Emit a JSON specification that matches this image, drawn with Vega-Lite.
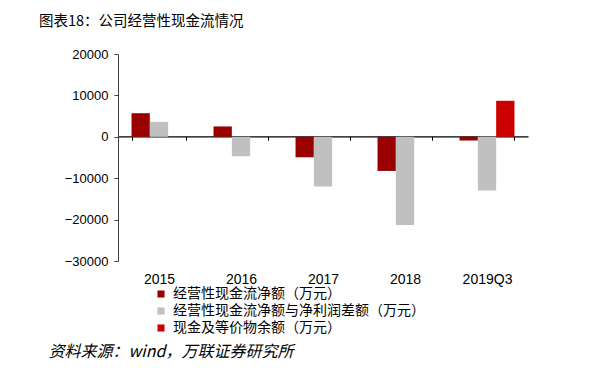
{
  "$schema": "https://vega.github.io/schema/vega-lite/v6.json",
  "width": 410,
  "height": 207,
  "autosize": {"type": "none"},
  "padding": {"left": 118, "top": 54, "right": 84, "bottom": 127},
  "background": "white",
  "title": {
    "text": "图表18：公司经营性现金流情况",
    "anchor": "start",
    "frame": "group",
    "dx": -79,
    "dy": -15,
    "font": "Noto Sans CJK SC",
    "fontSize": 14.5,
    "fontWeight": "normal",
    "color": "#000000"
  },
  "data": {
    "values": [
      {"year": "2015", "series": "经营性现金流净额（万元）", "value": 5700},
      {"year": "2015", "series": "经营性现金流净额与净利润差额（万元）", "value": 3600},
      {"year": "2016", "series": "经营性现金流净额（万元）", "value": 2500},
      {"year": "2016", "series": "经营性现金流净额与净利润差额（万元）", "value": -4700},
      {"year": "2017", "series": "经营性现金流净额（万元）", "value": -4950},
      {"year": "2017", "series": "经营性现金流净额与净利润差额（万元）", "value": -12000},
      {"year": "2018", "series": "经营性现金流净额（万元）", "value": -8250},
      {"year": "2018", "series": "经营性现金流净额与净利润差额（万元）", "value": -21300},
      {"year": "2019Q3", "series": "经营性现金流净额（万元）", "value": -900},
      {"year": "2019Q3", "series": "经营性现金流净额与净利润差额（万元）", "value": -13000},
      {"year": "2019Q3", "series": "现金及等价物余额（万元）", "value": 8700}
    ]
  },
  "mark": {"type": "bar"},
  "encoding": {
    "x": {
      "field": "year",
      "type": "nominal",
      "sort": null,
      "scale": {"paddingInner": 0.33, "paddingOuter": 0.165},
      "axis": {
        "offset": -124.7,
        "tickBand": "extent",
        "labelAngle": 0,
        "labelPadding": 132,
        "labelFont": "Liberation Sans",
        "labelFontSize": 14,
        "labelColor": "#000000",
        "domainColor": "#000000",
        "domainWidth": 1.3,
        "tickColor": "#000000",
        "tickSize": 4,
        "title": "资料来源：wind，万联证券研究所",
        "titleAnchor": "start",
        "titleX": -70,
        "titleY": 220,
        "titleBaseline": "alphabetic",
        "titleFont": "Noto Sans CJK SC",
        "titleFontStyle": "italic",
        "titleFontWeight": "normal",
        "titleFontSize": 16,
        "titleColor": "#000000"
      }
    },
    "xOffset": {
      "field": "series",
      "type": "nominal",
      "sort": ["经营性现金流净额（万元）", "经营性现金流净额与净利润差额（万元）", "现金及等价物余额（万元）"],
      "scale": {"paddingInner": 0, "paddingOuter": 0}
    },
    "y": {
      "field": "value",
      "type": "quantitative",
      "scale": {"domain": [-30000, 20000], "nice": false},
      "axis": {
        "values": [-30000, -20000, -10000, 0, 10000, 20000],
        "format": "d",
        "grid": false,
        "title": null,
        "labelFont": "Liberation Sans",
        "labelFontSize": 13,
        "labelColor": "#000000",
        "labelPadding": 6,
        "domainColor": "#404040",
        "tickColor": "#404040",
        "tickSize": 4
      }
    },
    "color": {
      "field": "series",
      "type": "nominal",
      "sort": ["经营性现金流净额（万元）", "经营性现金流净额与净利润差额（万元）", "现金及等价物余额（万元）"],
      "scale": {
        "domain": ["经营性现金流净额（万元）", "经营性现金流净额与净利润差额（万元）", "现金及等价物余额（万元）"],
        "range": ["#990000", "#C0C0C0", "#CC0000"]
      },
      "legend": {
        "orient": "none",
        "legendX": 36,
        "legendY": 233,
        "title": null,
        "symbolType": "square",
        "symbolSize": 50,
        "symbolStrokeWidth": 0,
        "labelFont": "Noto Sans CJK SC",
        "labelFontSize": 14,
        "labelLimit": 0,
        "labelColor": "#000000",
        "labelOffset": 5,
        "rowPadding": 3
      }
    }
  },
  "config": {"view": {"stroke": null}}
}
